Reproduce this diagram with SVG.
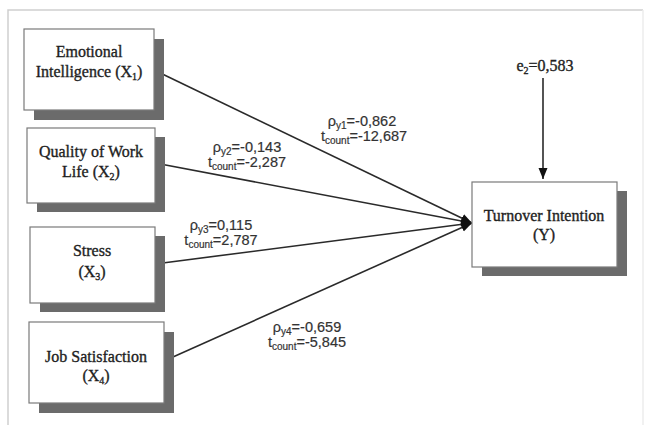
<svg xmlns="http://www.w3.org/2000/svg" width="646" height="425" viewBox="0 0 646 425">
<style>
.frame{fill:none;stroke:#cfcfcf;stroke-width:1.5}
.frame2{fill:none;stroke:#ececec;stroke-width:1.5}
.shadow{fill:#6b6b6b}
.box{fill:#fff;stroke:#7a7a7a;stroke-width:1.2}
.bt{font-family:"Liberation Serif","Times New Roman",serif;font-size:16px;fill:#1e1e1e;stroke:#1e1e1e;stroke-width:0.35;text-anchor:middle}
.lt{font-family:"Liberation Sans",Arial,sans-serif;font-size:14.5px;fill:#333;stroke:#333;stroke-width:0.2;text-anchor:middle}
.sub{font-size:10px}
.conn{stroke:#2a2a2a;stroke-width:1.6;fill:none}
</style>
<defs>
<marker id="ah" markerUnits="userSpaceOnUse" markerWidth="12" markerHeight="10" refX="11" refY="4.5" orient="auto">
<path d="M0,0 L11,4.5 L0,9 z" fill="#111"/>
</marker>
</defs>
<rect width="646" height="425" fill="#fff"/>
<path class="frame" d="M8,425 L8,10 L643,10"/>
<path class="frame2" d="M643,10 L643,425"/>

<g id="connectors">
<line class="conn" x1="154" y1="70" x2="472" y2="223" marker-end="url(#ah)"/>
<line class="conn" x1="155" y1="163" x2="472" y2="223" marker-end="url(#ah)"/>
<line class="conn" x1="155" y1="264" x2="472" y2="223" marker-end="url(#ah)"/>
<line class="conn" x1="164" y1="361" x2="472" y2="223" marker-end="url(#ah)"/>
<line class="conn" x1="543" y1="78" x2="543" y2="179" marker-end="url(#ah)"/>
</g>

<g id="labels">
<text class="lt" x="362" y="126">ρ<tspan class="sub" dy="3">y1</tspan><tspan dy="-3">=-0,862</tspan></text>
<text class="lt" x="364" y="141">t<tspan class="sub" dy="3">count</tspan><tspan dy="-3">=-12,687</tspan></text>
<text class="lt" x="247" y="152">ρ<tspan class="sub" dy="3">y2</tspan><tspan dy="-3">=-0,143</tspan></text>
<text class="lt" x="247" y="167">t<tspan class="sub" dy="3">count</tspan><tspan dy="-3">=-2,287</tspan></text>
<text class="lt" x="221" y="230">ρ<tspan class="sub" dy="3">y3</tspan><tspan dy="-3">=0,115</tspan></text>
<text class="lt" x="221" y="245">t<tspan class="sub" dy="3">count</tspan><tspan dy="-3">=2,787</tspan></text>
<text class="lt" x="307" y="332">ρ<tspan class="sub" dy="3">y4</tspan><tspan dy="-3">=-0,659</tspan></text>
<text class="lt" x="307" y="347">t<tspan class="sub" dy="3">count</tspan><tspan dy="-3">=-5,845</tspan></text>
</g>

<g id="e2">
<text class="bt" x="545" y="71">e<tspan class="sub" dy="3">2</tspan><tspan dy="-3">=0,583</tspan></text>
</g>

<g id="x1">
<rect class="shadow" x="34" y="39" width="130" height="81"/>
<rect class="box" x="24" y="29" width="130" height="81"/>
<text class="bt" x="89" y="57">Emotional</text>
<text class="bt" x="89" y="77">Intelligence (X<tspan class="sub" dy="3">1</tspan><tspan dy="-3">)</tspan></text>
</g>

<g id="x2">
<rect class="shadow" x="37" y="137" width="128" height="75"/>
<rect class="box" x="27" y="128" width="128" height="75"/>
<text class="bt" x="91" y="157">Quality of Work</text>
<text class="bt" x="91" y="177">Life (X<tspan class="sub" dy="3">2</tspan><tspan dy="-3">)</tspan></text>
</g>

<g id="x3">
<rect class="shadow" x="40" y="236" width="125" height="76"/>
<rect class="box" x="30" y="227" width="125" height="76"/>
<text class="bt" x="92" y="256">Stress</text>
<text class="bt" x="92" y="277">(X<tspan class="sub" dy="3">3</tspan><tspan dy="-3">)</tspan></text>
</g>

<g id="x4">
<rect class="shadow" x="39" y="332" width="135" height="81"/>
<rect class="box" x="29" y="322" width="135" height="81"/>
<text class="bt" x="96" y="362">Job Satisfaction</text>
<text class="bt" x="96" y="381">(X<tspan class="sub" dy="3">4</tspan><tspan dy="-3">)</tspan></text>
</g>

<g id="y">
<rect class="shadow" x="482" y="191" width="145" height="85"/>
<rect class="box" x="472" y="182" width="145" height="85"/>
<text class="bt" x="544" y="221">Turnover Intention</text>
<text class="bt" x="544" y="240">(Y)</text>
</g>
</svg>
